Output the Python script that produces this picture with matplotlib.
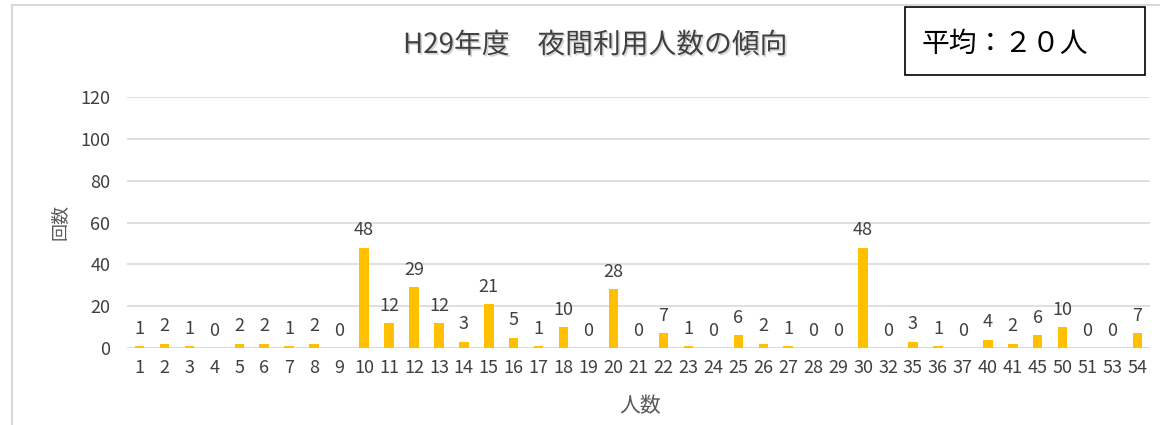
import matplotlib
matplotlib.use("Agg")
import matplotlib.pyplot as plt
from matplotlib.lines import Line2D
from matplotlib.patches import Rectangle
import matplotlib.patheffects as pe

plt.rcParams['font.family'] = ['Noto Sans CJK JP', 'DejaVu Sans']

categories = ['1', '2', '3', '4', '5', '6', '7', '8', '9', '10', '11', '12', '13', '14',
              '15', '16', '17', '18', '19', '20', '21', '22', '23', '24', '25', '26', '27',
              '28', '29', '30', '32', '35', '36', '37', '40', '41', '45', '50', '51', '53', '54']
counts = [1, 2, 1, 0, 2, 2, 1, 2, 0, 48, 12, 29, 12, 3, 21, 5, 1, 10, 0, 28, 0, 7, 1, 0,
          6, 2, 1, 0, 0, 48, 0, 3, 1, 0, 4, 2, 6, 10, 0, 0, 7]
yticks = [0, 20, 40, 60, 80, 100, 120]

title = 'H29年度\u3000夜間利用人数の傾向'
avg_text = '平均：２０人'
xlabel = '人数'
ylabel = '回数'

W, H = 1160, 425
fig = plt.figure(figsize=(W / 100, H / 100), dpi=100)
ax = fig.add_axes([127 / W, 1 - 348 / H, (1150 - 127) / W, (348 - 97) / H])

x = range(len(categories))
ax.bar(x, counts, width=0.38, color='#FFC000', zorder=3)
for xi, v in zip(x, counts):
    ax.annotate(str(v), (xi, v), xytext=(0, 6), textcoords='offset points',
                ha='center', va='bottom', fontsize=13, color='#404040')

ax.set_xlim(-0.5, len(categories) - 0.5)
ax.set_ylim(0, 120)
ax.set_yticks(yticks)
ax.set_xticks(list(x))
ax.set_xticklabels(categories)
ax.tick_params(axis='both', length=0, labelsize=13, labelcolor='#404040')
ax.tick_params(axis='x', pad=8)
ax.tick_params(axis='y', pad=12)
ax.yaxis.grid(True, color='#D9D9D9', linewidth=1.2, zorder=0)
for s in ax.spines.values():
    s.set_visible(False)
ax.axhline(0, color='#D9D9D9', linewidth=1.2, zorder=2)

fig.text(595 / W, 1 - 45 / H, title, ha='center', va='center', fontsize=20, color='#404040',
         path_effects=[pe.withSimplePatchShadow(offset=(1.2, -1.2), shadow_rgbFace='#BBBBBB', alpha=0.6)])
fig.text(60 / W, 1 - 222 / H, ylabel, ha='center', va='center', rotation=90,
         fontsize=13, color='#595959')
fig.text(640 / W, 1 - 406 / H, xlabel, ha='center', va='center', fontsize=15, color='#595959')

# average box
fig.add_artist(Rectangle((905 / W, 1 - 75 / H), (1145 - 905) / W, (75 - 7) / H,
                         transform=fig.transFigure, fill=False, edgecolor='#000000', linewidth=1.2))
fig.text(922 / W, 1 - 44 / H, avg_text, ha='left', va='center', fontsize=20, color='#000000')

# outer chart frame
fig.add_artist(Line2D([12 / W, 1], [1 - 5 / H, 1 - 5 / H], transform=fig.transFigure,
                      color='#D9D9D9', linewidth=1.5))
fig.add_artist(Line2D([12 / W, 12 / W], [0, 1 - 5 / H], transform=fig.transFigure,
                      color='#D9D9D9', linewidth=1.5))

fig.savefig('out.png', dpi=100)
